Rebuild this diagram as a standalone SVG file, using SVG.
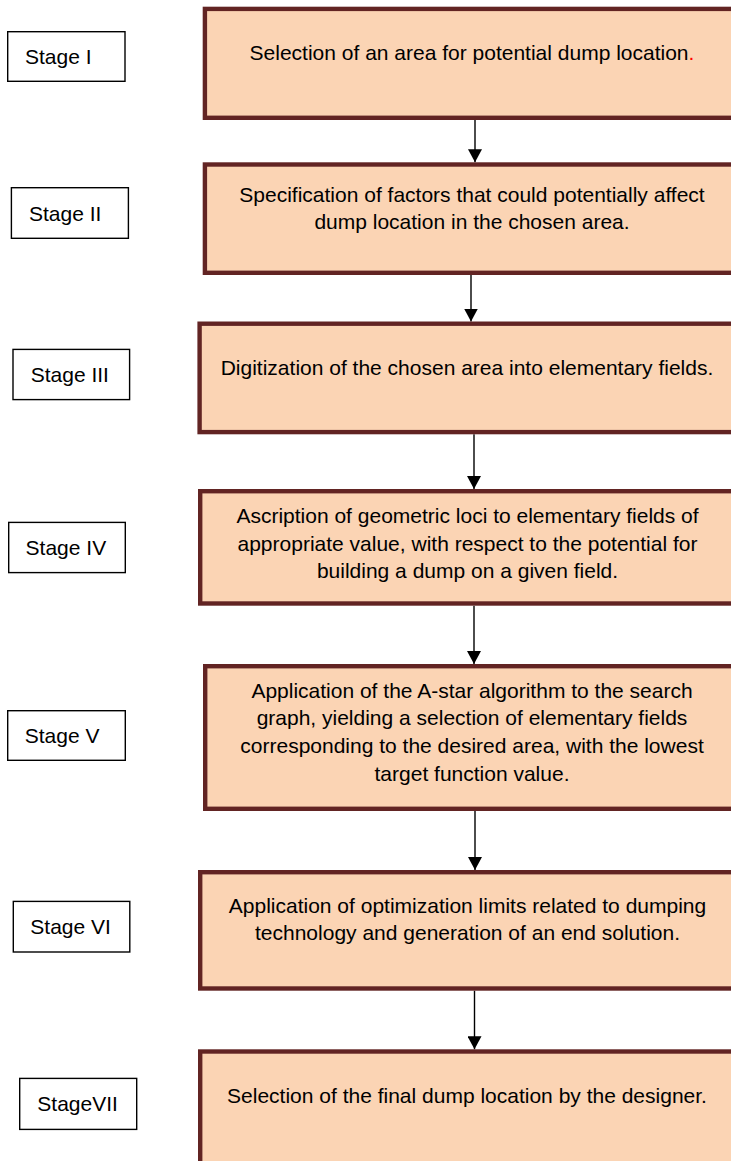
<svg xmlns="http://www.w3.org/2000/svg" width="731" height="1161" viewBox="0 0 731 1161">
<style>
.step{fill:#FBD4B4;stroke:#622423;stroke-width:4.4}
.stage{fill:#FFFFFF;stroke:#000000;stroke-width:1.4}
.t{font-family:"Liberation Sans",Arial,sans-serif;font-size:21px;fill:#000000}
.c{text-anchor:middle}
.conn{stroke:#000000;stroke-width:1.4;fill:none}
</style>
<defs>
<marker id="arr" markerUnits="userSpaceOnUse" markerWidth="14" markerHeight="14" viewBox="0 0 14 14" refX="13" refY="7" orient="auto">
<path d="M0,0 L13,7 L0,14 Z" fill="#000000"/>
</marker>
</defs>
<rect width="731" height="1161" fill="#FFFFFF"/>
<g id="connectors">
<path class="conn" d="M475,120 L475,162.3" marker-end="url(#arr)"/>
<path class="conn" d="M471,275 L471,321.5" marker-end="url(#arr)"/>
<path class="conn" d="M474,434.3 L474,489" marker-end="url(#arr)"/>
<path class="conn" d="M474,605.7 L474,664" marker-end="url(#arr)"/>
<path class="conn" d="M475,811 L475,870" marker-end="url(#arr)"/>
<path class="conn" d="M474.5,990.7 L474.5,1049.3" marker-end="url(#arr)"/>
</g>
<g id="stage1">
<rect class="stage" x="7.7" y="31.7" width="117.3" height="49.6"/>
<text class="t" x="25" y="64">Stage I</text>
</g>
<g id="stage2">
<rect class="stage" x="11.4" y="187.7" width="117" height="50.6"/>
<text class="t" x="29" y="221">Stage II</text>
</g>
<g id="stage3">
<rect class="stage" x="13" y="349.4" width="116.6" height="50.2"/>
<text class="t" x="30.7" y="382">Stage III</text>
</g>
<g id="stage4">
<rect class="stage" x="8.7" y="522.4" width="116.6" height="50.2"/>
<text class="t" x="25.6" y="555">Stage IV</text>
</g>
<g id="stage5">
<rect class="stage" x="7.7" y="710.7" width="117.6" height="49.6"/>
<text class="t" x="24.7" y="743">Stage V</text>
</g>
<g id="stage6">
<rect class="stage" x="13.3" y="901.4" width="116.5" height="50.6"/>
<text class="t" x="30.3" y="933.5">Stage VI</text>
</g>
<g id="stage7">
<rect class="stage" x="19.7" y="1078.4" width="117" height="51"/>
<text class="t" x="37.3" y="1111">StageVII</text>
</g>
<g id="step1">
<rect class="step" x="204.9" y="8.9" width="534" height="108.9"/>
<text class="t c" x="472" y="60">Selection of an area for potential dump location<tspan fill="#FF0000">.</tspan></text>
</g>
<g id="step2">
<rect class="step" x="204.9" y="164.5" width="534" height="108.3"/>
<text class="t c" x="472" y="202">Specification of factors that could potentially affect</text>
<text class="t c" x="472" y="229">dump location in the chosen area.</text>
</g>
<g id="step3">
<rect class="step" x="199.6" y="323.7" width="534" height="108.4"/>
<text class="t c" x="467" y="375">Digitization of the chosen area into elementary fields.</text>
</g>
<g id="step4">
<rect class="step" x="200.2" y="491.2" width="534" height="112.3"/>
<text class="t c" x="467.5" y="523">Ascription of geometric loci to elementary fields of</text>
<text class="t c" x="467.5" y="550.7">appropriate value, with respect to the potential for</text>
<text class="t c" x="467.5" y="578.4">building a dump on a given field.</text>
</g>
<g id="step5">
<rect class="step" x="205.2" y="666.2" width="534" height="142.6"/>
<text class="t c" x="472" y="697.7">Application of the A-star algorithm to the search</text>
<text class="t c" x="472" y="725.3">graph, yielding a selection of elementary fields</text>
<text class="t c" x="472" y="753">corresponding to the desired area, with the lowest</text>
<text class="t c" x="472" y="780.7">target function value.</text>
</g>
<g id="step6">
<rect class="step" x="200.2" y="872.2" width="534" height="116.3"/>
<text class="t c" x="467.5" y="912.7">Application of optimization limits related to dumping</text>
<text class="t c" x="467.5" y="940.3">technology and generation of an end solution.</text>
</g>
<g id="step7">
<rect class="step" x="200.2" y="1051.5" width="534" height="130"/>
<text class="t c" x="467" y="1103.3">Selection of the final dump location by the designer.</text>
</g>
</svg>
